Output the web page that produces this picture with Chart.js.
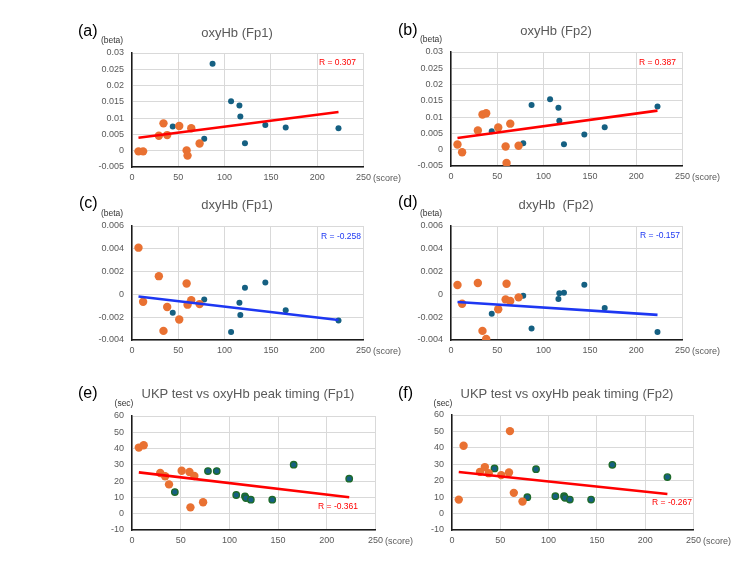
<!DOCTYPE html>
<html>
<head>
<meta charset="utf-8">
<script src="https://cdn.jsdelivr.net/npm/chart.js@4.4.1/dist/chart.umd.min.js"></script>
<style>
  html, body { margin:0; padding:0; background:#fff; }
  body { width:750px; height:563px; position:relative; overflow:hidden; font-family:"Liberation Sans", Arial, sans-serif; }
  .t { position:absolute; white-space:pre; line-height:1; }
  .c { transform:translate(-50%,-50%); }
  .l { transform:translate(0,-50%); }
  .r { transform:translate(-100%,-50%); }
</style>
</head>
<body>
<script>
// ---- shared x values (score) ----
const orangeScore = [7, 12, 29, 34, 38, 51, 59, 60, 64, 73];
const blueScore   = [44, 78, 87, 107, 116, 117, 122, 144, 166, 223];
const trendScore  = [7, 223];

// ---- (a) oxyHb (Fp1) ----
const aOrange = [-0.0002, -0.0002, 0.0046, 0.0084, 0.0048, 0.0076, 0.0001, -0.0015, 0.0069, 0.0022];
const aBlue   = [0.0074, 0.0037, 0.0267, 0.0152, 0.0139, 0.0105, 0.0023, 0.0079, 0.0071, 0.0069];
const aTrend  = [0.0040, 0.0119];
// ---- (b) oxyHb (Fp2) ----
const bOrange = [0.0016, -0.0008, 0.0059, 0.0108, 0.0112, 0.0068, 0.0010, -0.0041, 0.0080, 0.0012];
const bBlue   = [0.0057, 0.0020, 0.0137, 0.0155, 0.0129, 0.0089, 0.0017, 0.0047, 0.0069, 0.0133];
const bTrend  = [0.0036, 0.0120];
// ---- (c) dxyHb (Fp1) ----
const cOrange = [0.0041, -0.00064, 0.0016, -0.0032, -0.0011, -0.0022, 0.00096, -0.0009, -0.0005, -0.00085];
const cBlue   = [-0.0016, -0.00044, null, -0.0033, -0.00073, -0.0018, 0.00058, 0.00105, -0.0014, -0.0023];
const cTrend  = [-0.00018, -0.00225];
// ---- (d) dxyHb (Fp2) ----
const dOrange = [0.00082, -0.00082, 0.0010, -0.0032, -0.0039, -0.0013, -0.00044, 0.00093, -0.00058, -0.00026];
const dBlue   = [-0.0017, -0.00012, -0.0030, null, -0.0004, 0.0001, 0.00015, 0.00085, -0.0012, -0.0033];
const dTrend  = [-0.00067, -0.0018];
// ---- (e) UKP test vs oxyHb peak timing (Fp1) ----
const eOrange = [40.6, 42, 25, 23, 18, 26.4, 25.6, 3.9, 23.2, 7];
const eBlue   = [13.3, 26.2, 26.2, 11.5, 10.7, 9.6, 8.6, 8.6, 30.1, 21.5];
const eTrend  = [25.4, 10.1];
// ---- (f) UKP test vs oxyHb peak timing (Fp2) ----
const fOrange = [8.5, 41.3, 25.4, 28.3, 24.6, 23.4, 25.0, 50.2, 12.6, 7.3];
const fBlue   = [27.5, 10.0, 27.0, 10.6, 10.6, 9.6, 8.5, 8.5, 29.7, 22.2];
const fTrend  = [25.3, 11.9];

// ---- axis ranges [min, max, step] ----
const betaOxyTicks = [-0.005, 0.03, 0.005];
const betaDxyTicks = [-0.004, 0.006, 0.002];
const secTicks     = [-10, 60, 10];
const scoreTicks   = [0, 250, 50];

// ---- text ----
const letters = ['(a)', '(b)', '(c)', '(d)', '(e)', '(f)'];
const titles  = ['oxyHb (Fp1)', 'oxyHb (Fp2)', 'dxyHb (Fp1)', 'dxyHb  (Fp2)',
                 'UKP test vs oxyHb peak timing (Fp1)', 'UKP test vs oxyHb peak timing (Fp2)'];
const units   = ['(beta)', '(beta)', '(beta)', '(beta)', '(sec)', '(sec)'];
const rLabels = ['R = 0.307', 'R = 0.387', 'R = -0.258', 'R = -0.157', 'R = -0.361', 'R = -0.267'];

const RED = '#FF0000', BLUE = '#1D37F2';
const FONT = '"Liberation Sans", Arial, sans-serif';

const panels = [
  {L:132, R:364, T:53, B:167, orange:aOrange, blue:aBlue, trend:aTrend, yt:betaOxyTicks, tc:RED,
   letter:[78,31], title:[237,32], unit:[112,40], rl:[356,62], green:false},
  {L:451, R:683, T:52, B:166, orange:bOrange, blue:bBlue, trend:bTrend, yt:betaOxyTicks, tc:RED,
   letter:[398,30], title:[556,30], unit:[431,39], rl:[676,62], green:false},
  {L:132, R:364, T:226, B:340, orange:cOrange, blue:cBlue, trend:cTrend, yt:betaDxyTicks, tc:BLUE,
   letter:[79,203], title:[237,204], unit:[112,213], rl:[361,236], green:false},
  {L:451, R:683, T:226, B:340, orange:dOrange, blue:dBlue, trend:dTrend, yt:betaDxyTicks, tc:BLUE,
   letter:[398,202], title:[556,204], unit:[431,213], rl:[680,235], green:false},
  {L:132, R:376, T:416, B:530, orange:eOrange, blue:eBlue, trend:eTrend, yt:secTicks, tc:RED,
   letter:[78,393], title:[248,393], unit:[124,403], rl:[358,506], green:true},
  {L:452, R:694, T:415, B:530, orange:fOrange, blue:fBlue, trend:fTrend, yt:secTicks, tc:RED,
   letter:[398,393], title:[567,393], unit:[443,403], rl:[692,502], green:true}
];

function addText(txt, x, y, cls, css) {
  const d = document.createElement('div');
  d.className = 't ' + cls;
  d.textContent = txt;
  d.style.left = x + 'px';
  d.style.top = y + 'px';
  d.style.cssText += css;
  document.body.appendChild(d);
}

const fmt = v => { const n = parseFloat(Number(v).toFixed(4)); return (n === 0 ? 0 : n).toString(); };

panels.forEach((p, i) => {
  const padL = 75, padT = 50, padR = 12, padB = 26;
  const w = p.R - p.L + padL + padR, h = p.B - p.T + padT + padB;
  const cv = document.createElement('canvas');
  cv.width = w; cv.height = h;
  cv.style.cssText = `position:absolute;left:${p.L - padL}px;top:${p.T - padT}px;width:${w}px;height:${h}px;`;
  document.body.appendChild(cv);

  const blueColor = '#156082';
  new Chart(cv, {
    type: 'scatter',
    data: {
      datasets: [
        { type:'line', data: trendScore.map((x, k) => ({x, y: p.trend[k]})),
          borderColor: p.tc, borderWidth: 2.6, pointRadius: 0, fill: false, tension: 0, order: 0 },
        { data: orangeScore.map((x, k) => ({x, y: p.orange[k]})),
          backgroundColor: '#E97132', borderWidth: 0, pointRadius: 4.2, order: 1 },
        { data: blueScore.map((x, k) => ({x, y: p.blue[k]})).filter(d => d.y !== null),
          backgroundColor: blueColor, borderColor: p.green ? '#1E6B2A' : blueColor,
          borderWidth: p.green ? 1.4 : 0, pointRadius: p.green ? 3.2 : 3.0, order: 2 }
      ]
    },
    options: {
      responsive: false, animation: false, devicePixelRatio: 1,
      layout: { padding: { left: 0, top: padT, right: padR, bottom: 0 } },
      plugins: { legend: { display: false }, tooltip: { enabled: false } },
      scales: {
        x: {
          type: 'linear', min: scoreTicks[0], max: scoreTicks[1],
          ticks: { stepSize: scoreTicks[2], color: '#595959', font: { family: FONT, size: 9 }, padding: 5, maxRotation: 0 },
          grid: { color: '#d9d9d9', lineWidth: 1, drawTicks: false },
          border: { color: '#1a1a1a', width: 1.5 },
          afterFit(s) { s.height = padB; }
        },
        y: {
          type: 'linear', min: p.yt[0], max: p.yt[1],
          ticks: { stepSize: p.yt[2], color: '#595959', font: { family: FONT, size: 9 }, padding: 8, callback: fmt },
          grid: { color: '#d9d9d9', lineWidth: 1, drawTicks: false },
          border: { color: '#1a1a1a', width: 1.5 },
          afterFit(s) { s.width = padL; }
        }
      }
    }
  });

  addText(letters[i], p.letter[0], p.letter[1], 'l', 'font-size:16px;color:#000;');
  addText(titles[i], p.title[0], p.title[1], 'c', 'font-size:13px;color:#595959;');
  addText(units[i], p.unit[0], p.unit[1], 'c', 'font-size:8.5px;color:#333;');
  addText('(score)', p.R + 9, p.B + 11, 'l', 'font-size:9px;color:#595959;');
  addText(rLabels[i], p.rl[0], p.rl[1], 'r', `font-size:8.5px;color:${p.tc};`);
});
</script>
</body>
</html>
